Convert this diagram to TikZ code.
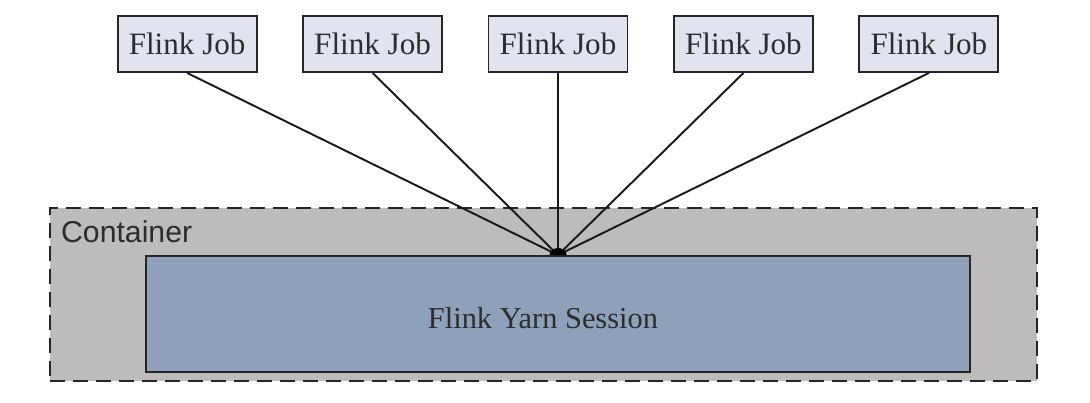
\documentclass[tikz,border=0pt]{standalone}
\usepackage{fontspec}
\setmainfont{Liberation Serif}
\setsansfont{Liberation Sans}
\usetikzlibrary{
    positioning,                      % right=of, below=of, etc.
    calc                              % ([xshift=..]a.north west)
}
\definecolor{job_fill}{RGB}{225,228,238}
\definecolor{container_fill}{RGB}{190,187,187}
\definecolor{session_fill}{RGB}{143,160,186}
\definecolor{text_dark}{RGB}{45,45,45}
\tikzset{
    job/.style={
        rectangle, draw=black!85, line width=1.1pt, fill=job_fill,
        minimum width=27.8mm, minimum height=11.2mm,
        font=\fontsize{17.7}{20}\selectfont, text=text_dark,
        inner sep=2pt
    },
    container/.style={
        rectangle, draw=black!85, line width=1.4pt, fill=container_fill,
        dash pattern=on 3mm off 1.6mm
    },
    session/.style={
        rectangle, draw=black!85, line width=1.1pt, fill=session_fill,
        font=\fontsize{17.3}{20}\selectfont, text=text_dark
    },
    link/.style={
        line width=1.1pt, draw=black!90
    }
}
\begin{document}
\begin{tikzpicture}
    \useasboundingbox (0,0) rectangle (21.8,8.04);
    \node[container, minimum width=197.4mm, minimum height=34.6mm] (cont) at (10.87,2.15) {};
    \node[anchor=north west, inner sep=0pt, font=\sffamily\fontsize{17.2}{20}\selectfont, text=text_dark]
        (contlabel) at ([xshift=2.4mm,yshift=-2.6mm]cont.north west) {Container};
    \node[session, minimum width=164.8mm, minimum height=23.2mm] (sess) at (11.16,1.76) {};
    \node[session, draw=none, fill=none, inner sep=0pt] (sesslabel)
        at ([xshift=-3mm,yshift=-0.8mm]sess.center) {Flink Yarn Session};
    % jobs
    \node[job] (job3) at (11.16,7.16) {Flink Job};
    \node[job, left=8.9mm of job3] (job2) {Flink Job};
    \node[job, left=8.9mm of job2] (job1) {Flink Job};
    \node[job, right=8.9mm of job3] (job4) {Flink Job};
    \node[job, right=8.9mm of job4] (job5) {Flink Job};
    \coordinate (hub) at (sess.north);
    \draw[link] (job1.south) -- (hub);
    \draw[link] (job2.south) -- (hub);
    \draw[link] (job3.south) -- (hub);
    \draw[link] (job4.south) -- (hub);
    \draw[link] (job5.south) -- (hub);
    \fill[black] ([xshift=-1.7mm]hub) arc[start angle=180, end angle=0, x radius=1.7mm, y radius=1.4mm] -- cycle;
\end{tikzpicture}
\end{document}
